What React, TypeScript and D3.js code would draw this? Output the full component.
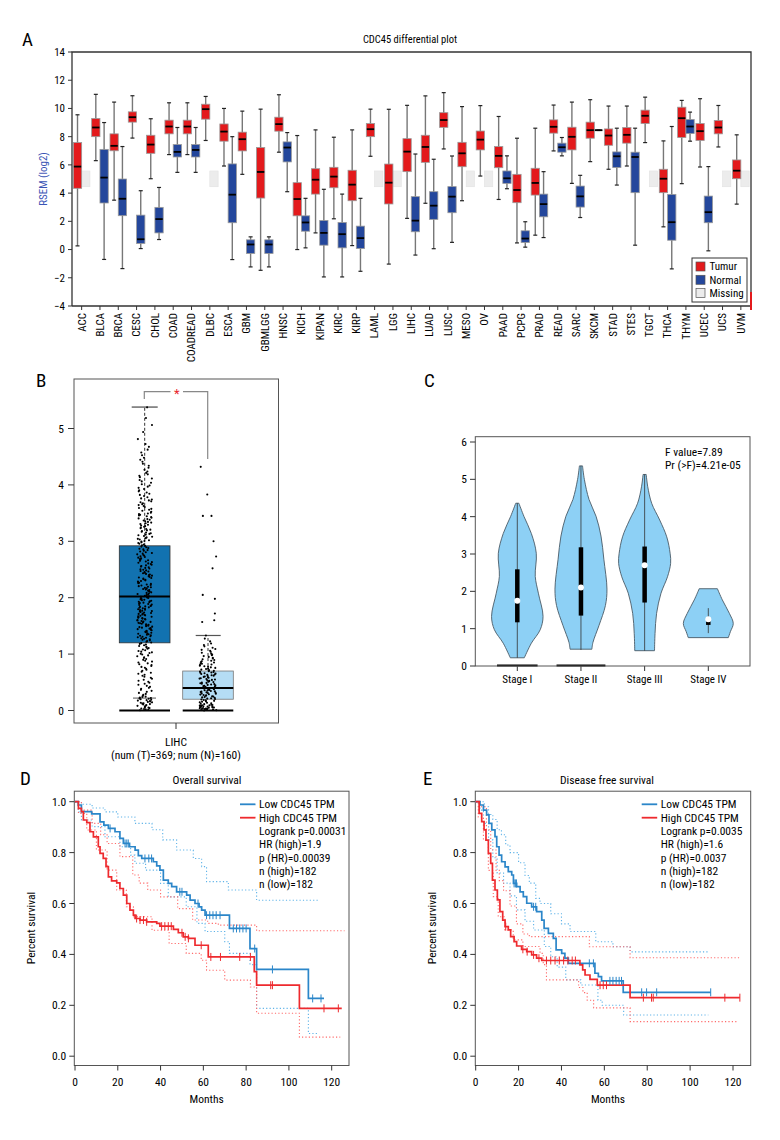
import React from "react";
import * as d3 from "d3";

const FONT = "'Liberation Sans Narrow','Arial Narrow','Roboto Condensed','DejaVu Sans Condensed',sans-serif";

// ---------------- Panel A data ----------------
const cancerTypes = ["ACC","BLCA","BRCA","CESC","CHOL","COAD","COADREAD","DLBC","ESCA","GBM","GBMLGG","HNSC","KICH","KIPAN","KIRC","KIRP","LAML","LGG","LIHC","LUAD","LUSC","MESO","OV","PAAD","PCPG","PRAD","READ","SARC","SKCM","STAD","STES","TGCT","THCA","THYM","UCEC","UCS","UVM"];
// [min, q1, median, q3, max]
const tumorStats: number[][] = [
  [0.26,4.34,5.88,7.58,9.55],[6.3,8.0,8.65,9.29,11.0],[3.5,7.0,7.35,8.2,10.45],[7.9,9.03,9.38,9.76,10.9],
  [5.02,6.82,7.44,8.1,9.27],[6.73,8.2,8.72,9.17,10.4],[6.73,8.2,8.72,9.17,10.4],[7.73,9.24,9.95,10.3,10.85],
  [5.92,7.68,8.36,8.9,10.0],[5.33,6.99,7.82,8.32,9.81],[-1.47,3.65,5.5,7.23,9.95],[6.9,8.39,8.89,9.38,10.97],
  [0,2.39,3.58,4.74,8.08],[1.18,3.93,4.95,5.73,8.48],[2.18,4.38,5.17,5.83,7.96],[0.28,3.46,4.6,5.62,8.48],
  [6.61,8.0,8.53,8.93,9.95],[-1.03,3.23,4.74,6.06,9.94],[2.21,5.52,6.94,7.86,10.22],[3.28,6.18,7.27,8.1,10.89],
  [7.13,8.66,9.18,9.7,11.12],[3.46,5.87,6.82,7.6,10.13],[5.21,7.06,7.79,8.4,10.2],[3.55,5.8,6.64,7.3,9.43],
  [0.47,3.32,4.22,5.33,7.89],[1.02,3.86,4.72,5.76,8.6],[6.99,8.25,8.7,9.19,10.24],[4.69,7.06,7.99,8.67,10.45],
  [6.23,7.89,8.46,9.03,10.62],[5.69,7.39,8.08,8.55,10.17],[5.92,7.54,8.13,8.65,10.17],[7.58,8.93,9.48,9.88,10.8],
  [1.61,4.03,5.02,5.69,7.7],[4.67,7.94,9.31,10.09,10.57],[5.85,7.73,8.39,8.93,10.69],[7.27,8.2,8.65,9.15,10.21],
  [3.22,5.02,5.59,6.35,8.13]
];
const normalStats: (number[] | null)[] = [
  null,[-0.7,3.3,5.1,7.1,9.0],[-1.35,2.4,3.6,5.0,7.3],[0.07,0.43,0.73,2.44,4.17],
  [0.71,1.18,2.16,2.99,4.4],[5.47,6.56,6.92,7.44,8.65],[5.47,6.56,7.06,7.44,8.65],null,
  [-0.71,1.9,3.89,6.07,8.0],[-1.23,-0.28,0.36,0.69,0.9],[-1.23,-0.28,0.36,0.69,0.9],[4.1,6.21,7.23,7.63,8.29],
  [0.12,1.3,1.92,2.39,3.63],[-1.94,0.31,1.18,2.06,4.27],[-1.94,0.12,1.09,1.92,3.93],[-1.54,0.07,0.81,1.66,3.63],
  null,null,[-0.39,1.26,2.05,3.75,6.77],[0.06,2.14,3.11,4.1,6.4],
  [0.51,2.61,3.75,4.46,6.63],null,null,[4.31,4.69,5.05,5.57,6.64],
  [0.17,0.5,0.78,1.33,1.97],[0.85,2.32,3.22,3.93,5.52],[6.64,6.9,7.25,7.54,7.94],[2.27,3.01,3.77,4.5,5.26],
  [8.44,8.44,8.46,8.48,8.48],[4.57,5.81,6.61,6.92,8.6],[0.31,4.03,6.56,6.9,8.6],null,
  [-1.37,0.66,1.94,3.91,8.72],[7.68,8.22,8.72,9.22,9.74],[-0.09,1.9,2.65,3.79,5.88],null,
  null
];
const missingRange = [4.45, 5.57];
const yTicksA = [-4,-2,0,2,4,6,8,10,12,14];
const legendA = [["Tumur","#e31a1c"],["Normal","#24479c"],["Missing","#ececec"]];

// ---------------- Panel B data ----------------
const tumorBinEdges = [0,0.25,0.5,0.75,1,1.25,1.5,1.75,2,2.25,2.5,2.75,3,3.25,3.5,3.75,4,4.25,4.5,4.75,5,5.25,5.5];
const tumorBinCounts = [32,14,14,16,20,28,30,30,25,24,22,20,20,20,15,12,10,7,5,2,2,1];
const normalBinEdges = [0,0.1,0.2,0.3,0.4,0.5,0.6,0.7,0.8,0.9,1.0,1.1,1.2,1.3];
const normalBinCounts = [26,12,14,16,14,13,14,10,9,7,6,4,2];
const normalOutliers = [1.33,1.57,1.6,1.72,1.98,2.05,2.52,2.73,3.0,3.45,3.45,3.83,4.32];
const tumorBox = { lo: 0.22, q1: 1.2, med: 2.02, q3: 2.92, hi: 5.38 };
const normalBox = { lo: 0.0, q1: 0.2, med: 0.4, q3: 0.7, hi: 1.33 };
const yTicksB = [0,1,2,3,4,5];

// ---------------- Panel C data ----------------
const stages = ["Stage I","Stage II","Stage III","Stage IV"];
// [value, relative density]
const violinShapes: number[][][] = [
  [[0.22,0.27],[0.61,0.54],[0.97,0.88],[1.33,0.99],[1.95,0.81],[2.4,0.69],[3.02,0.73],[3.55,0.54],[4.0,0.26],[4.36,0.06]],
  [[0.45,0.42],[0.63,0.46],[1.08,0.69],[1.62,0.94],[2.06,1.0],[2.86,0.88],[3.48,0.77],[4.01,0.58],[4.46,0.31],[5.0,0.13],[5.36,0.06]],
  [[0.41,0.38],[0.87,0.4],[1.41,0.46],[1.95,0.63],[2.39,0.88],[2.75,1.0],[3.02,0.98],[3.46,0.85],[3.91,0.58],[4.36,0.27],[4.8,0.12],[5.13,0.06]],
  [[0.76,0.77],[0.92,0.85],[1.14,0.96],[1.41,0.81],[1.77,0.54],[2.07,0.35]]
];
const stageBoxes = [
  { lo: 0.22, q1: 1.17, med: 1.75, q3: 2.59, hi: 4.36 },
  { lo: 0.43, q1: 1.35, med: 2.1, q3: 3.18, hi: 5.36 },
  { lo: 0.41, q1: 1.7, med: 2.7, q3: 3.2, hi: 5.13 },
  { lo: 0.88, q1: 1.1, med: 1.25, q3: 1.2, hi: 1.55 }
];
const zeroRugWidth = [0.78, 0.94, 0, 0];
const yTicksC = [0,1,2,3,4,5,6];
const anovaText = ["F value=7.89", "Pr (>F)=4.21e-05"];

// ---------------- Panel D data (overall survival) ----------------
const lowOS = [[0,1],[1.5,0.987],[3,0.961],[7.8,0.952],[11.7,0.921],[13.5,0.908],[15.6,0.895],[18.7,0.882],[21,0.856],[22.6,0.836],[25.5,0.823],[28.1,0.81],[29.6,0.788],[31.2,0.777],[36.6,0.764],[38.2,0.748],[39.7,0.731],[41.3,0.692],[43.6,0.679],[45.2,0.666],[47.5,0.646],[52.2,0.633],[53.8,0.613],[56.1,0.6],[58,0.587],[59.2,0.574],[60.8,0.554],[72.2,0.502],[81.8,0.423],[84.9,0.341],[109.1,0.227]];
const lowOSEnd = 116.4;
const lowOSCensor = [16.4,23.4,24.2,24.9,32.7,34.5,35.8,49,50,57.5,61.5,63,64.5,66,67.8,74,75.5,77,78.5,80,84,92.3,111.1,115];
const highOS = [[0,1],[1.6,0.974],[3,0.961],[3.9,0.928],[5.5,0.918],[7,0.882],[8.6,0.862],[10.9,0.823],[11.7,0.797],[13.2,0.777],[14.5,0.745],[15.6,0.705],[17.1,0.689],[19.5,0.681],[21,0.659],[22.6,0.633],[24.2,0.6],[25.7,0.574],[27.3,0.554],[28.1,0.541],[30.4,0.535],[33.5,0.528],[38.2,0.522],[39.7,0.511],[46,0.498],[48.3,0.485],[50.6,0.469],[53,0.463],[56.1,0.436],[62.3,0.39],[83.8,0.332],[84.9,0.279],[104.9,0.188]];
const highOSEnd = 124.7;
const highOSCensor = [28.8,30.4,32,33.5,40.5,42,43.6,45,50,51.5,53,59,63.5,68,77,82,91.5,92.3,116.4,123.1];
const lowOSUpper = [[0,1],[3,0.99],[8,0.975],[14,0.96],[20,0.94],[28,0.915],[36,0.89],[41,0.85],[47.5,0.81],[55.3,0.777],[59.2,0.745],[61.5,0.686],[71.7,0.653],[84.9,0.613]];
const lowOSUpperEnd = 114.5;
const lowOSLower = [[0,1],[1.5,0.96],[3,0.928],[8,0.902],[14,0.862],[21,0.823],[26,0.79],[28,0.758],[33,0.731],[40,0.679],[43.6,0.626],[52,0.587],[57,0.522],[60.8,0.49],[70,0.45],[72.2,0.404],[81.8,0.36],[84.9,0.188],[109.1,0.089]];
const lowOSLowerEnd = 113.8;
const highOSUpper = [[0,1],[3,0.967],[8,0.915],[12,0.87],[15,0.836],[21,0.784],[27,0.712],[30,0.68],[34,0.653],[40,0.626],[48,0.58],[55,0.535],[62,0.522],[67,0.515],[84.9,0.493]];
const highOSUpperEnd = 126;
const highOSLower = [[0,1],[1.6,0.954],[5.5,0.889],[10,0.81],[15,0.731],[19.5,0.653],[24,0.587],[27.3,0.548],[36,0.495],[44,0.443],[52,0.404],[59,0.377],[61.5,0.338],[70,0.299],[82,0.272],[84.9,0.169],[104.9,0.075]];
const highOSLowerEnd = 124;
const osLegend = ["Logrank p=0.00031","HR (high)=1.9","p (HR)=0.00039","n (high)=182","n (low)=182"];

// ---------------- Panel E data (disease free survival) ----------------
const lowDFS = [[0,1],[2,0.987],[3.6,0.967],[5.1,0.948],[6.2,0.915],[7.5,0.889],[9,0.863],[9.8,0.823],[10.9,0.79],[12.1,0.764],[13.7,0.744],[15.2,0.725],[16.8,0.712],[17.6,0.679],[19.1,0.666],[20.7,0.646],[22.2,0.627],[23.8,0.601],[26.1,0.587],[28.4,0.568],[30.8,0.535],[31.9,0.502],[33.9,0.483],[36.2,0.463],[37.5,0.418],[40.1,0.404],[41.6,0.385],[43.2,0.365],[55.6,0.326],[57.2,0.313],[58.7,0.296],[68.8,0.251]];
const lowDFSEnd = 109.6;
const lowDFSCensor = [17.9,18.5,19,27,28,53,54.9,62.6,64,65.5,66.9,68,77.4,79.7,84.4,109.6];
const highDFS = [[0,1],[1.6,0.954],[2.8,0.922],[3.9,0.889],[4.8,0.849],[5.9,0.797],[7,0.758],[7.8,0.692],[9,0.653],[10.1,0.614],[11.3,0.568],[12.6,0.535],[13.7,0.509],[15.2,0.496],[16.3,0.47],[17.9,0.45],[19.1,0.433],[21.4,0.42],[23.8,0.411],[26.1,0.398],[28.4,0.385],[30.8,0.376],[48.6,0.359],[49.9,0.339],[51,0.319],[53.3,0.302],[56.7,0.279],[72,0.23]];
const highDFSEnd = 123.2;
const highDFSCensor = [14,22,24,27,29.5,33,35,37,39,41,43,45,46.5,58,59.5,61,78.2,82,82.8,116.2,123.2];
const lowDFSUpper = [[0,1],[4,0.98],[6,0.95],[8,0.93],[10,0.89],[12,0.87],[14,0.83],[16,0.8],[20,0.76],[23,0.71],[25,0.68],[28,0.62],[30,0.6],[35,0.56],[40,0.52],[44,0.49],[56,0.45],[64,0.43],[72,0.41]];
const lowDFSUpperEnd = 108.5;
const lowDFSLower = [[0,1],[2,0.967],[3.6,0.915],[6,0.85],[8,0.78],[10,0.72],[13,0.68],[16,0.63],[19,0.575],[23,0.53],[27,0.496],[32,0.431],[35,0.391],[38,0.35],[42,0.3],[49,0.28],[57,0.22],[59,0.2],[69,0.162]];
const lowDFSLowerEnd = 108.5;
const highDFSUpper = [[0,1],[2,0.98],[5,0.89],[7,0.81],[9.5,0.73],[11,0.69],[13,0.65],[16,0.59],[19,0.52],[22,0.48],[25,0.47],[53,0.43],[72,0.387]];
const highDFSUpperEnd = 123.2;
const highDFSLower = [[0,1],[1.2,0.94],[3.6,0.85],[5.9,0.73],[8.2,0.627],[10.5,0.548],[13.6,0.496],[17.5,0.457],[22,0.431],[30,0.404],[31.5,0.36],[33,0.3],[48,0.27],[50,0.25],[52,0.22],[55,0.19],[72,0.136]];
const highDFSLowerEnd = 122.5;
const dfsLegend = ["Logrank p=0.0035","HR (high)=1.6","p (HR)=0.0037","n (high)=182","n (low)=182"];

const kmXTicks = [0,20,40,60,80,100,120];
const kmYTicks = [0,0.2,0.4,0.6,0.8,1.0];

const BLUE = "#2b86c9";
const RED = "#ee2a2e";
const BLUE_CI = "#5fb3e8";
const RED_CI = "#ff6b6b";

function binValues(edges: number[], counts: number[]) {
  const out: number[] = [];
  counts.forEach((n, k) => {
    const lo = edges[k], hi = edges[k + 1];
    for (let j = 0; j < n; j++) out.push(lo + ((j + 0.5) / n) * (hi - lo));
  });
  return out;
}

// deterministic horizontal jitter (layout only)
function jitter(i: number) {
  const s = Math.sin(i * 12.9898 + 78.233) * 43758.5453;
  const f = s - Math.floor(s);
  return f * 2 - 1;
}

function PanelA() {
  const x = d3.scaleBand<string>().domain(cancerTypes).range([72.5, 750]);
  const y = d3.scaleLinear().domain([-4, 14]).range([306, 52]);
  const bw = 8.3;
  const box = (s: number[], cx: number, fill: string, key: string) => (
    <g key={key}>
      <line x1={cx} x2={cx} y1={y(s[0])} y2={y(s[4])} stroke="#777" strokeWidth={1.4} />
      <line x1={cx - 2} x2={cx + 2} y1={y(s[0])} y2={y(s[0])} stroke="#222" strokeWidth={1.2} />
      <line x1={cx - 2} x2={cx + 2} y1={y(s[4])} y2={y(s[4])} stroke="#222" strokeWidth={1.2} />
      <rect x={cx - bw / 2} y={y(s[3])} width={bw} height={Math.max(0.8, y(s[1]) - y(s[3]))} fill={fill} stroke="#9a9a9a" strokeWidth={0.8} />
      <line x1={cx - bw / 2 + 0.5} x2={cx + bw / 2 - 0.5} y1={y(s[2])} y2={y(s[2])} stroke="#000" strokeWidth={1.8} />
    </g>
  );
  return (
    <g fontFamily={FONT}>
      <text x={22} y={46} fontSize={19} fontFamily={FONT}>A</text>
      <text x={410} y={43} fontSize={10.5} textAnchor="middle">CDC45 differential plot</text>
      <text transform={`translate(47,179) rotate(-90)`} fontSize={11} fill="#3b55b5" textAnchor="middle">RSEM (log2)</text>
      {cancerTypes.map((c, i) => {
        const cx = (x(c) as number) + x.bandwidth() / 2;
        const t = tumorStats[i];
        const n = normalStats[i];
        return (
          <g key={c}>
            {n === null ? (
              <rect x={cx} y={y(missingRange[1])} width={bw} height={y(missingRange[0]) - y(missingRange[1])} fill="#ececec" stroke="#e2e2e2" strokeWidth={0.6} />
            ) : null}
            {box(t, cx - bw / 2, "#e31a1c", "t")}
            {n !== null ? box(n, cx + bw / 2, "#24479c", "n") : null}
            <line x1={cx} x2={cx} y1={306} y2={310} stroke="#333" />
            <text transform={`translate(${cx},313) rotate(-90)`} textAnchor="end" dy="0.35em" fontSize={11}>{c}</text>
          </g>
        );
      })}
      <path d={`M72,306 V52 H751 V306 H72`} fill="none" stroke="#333" strokeWidth={1.3} />
      <line x1={751} x2={751} y1={292} y2={310} stroke="#e31a1c" strokeWidth={2} />
      {yTicksA.map(v => (
        <g key={v}>
          <line x1={68} x2={72} y1={y(v)} y2={y(v)} stroke="#333" />
          <text x={65} y={y(v)} dy="0.35em" textAnchor="end" fontSize={11}>{v < 0 ? `\u2212${-v}` : v}</text>
        </g>
      ))}
      <rect x={692} y={258} width={55} height={44} fill="#fff" stroke="#333" strokeWidth={1} />
      {legendA.map(([label, col], i) => (
        <g key={label}>
          <rect x={696} y={262 + i * 13.3} width={9} height={9} fill={col} stroke="#555" strokeWidth={0.7} />
          <text x={709.5} y={266.5 + i * 13.3} dy="0.35em" fontSize={11}>{label}</text>
        </g>
      ))}
    </g>
  );
}

function PanelB() {
  const y = d3.scaleLinear().domain([0, 5]).range([710.5, 428.5]);
  const tc = 144.7, nc = 208;
  const tumorVals = binValues(tumorBinEdges, tumorBinCounts);
  const normalVals = binValues(normalBinEdges, normalBinCounts).concat(normalOutliers);
  return (
    <g fontFamily={FONT}>
      <text x={36} y={387} fontSize={19}>B</text>
      <rect x={74} y={379} width={204.5} height={344} fill="none" stroke="#555" strokeWidth={1} />
      {yTicksB.map(v => (
        <g key={v}>
          <line x1={68} x2={74} y1={y(v)} y2={y(v)} stroke="#333" />
          <text x={64} y={y(v)} dy="0.35em" textAnchor="end" fontSize={11.5}>{v}</text>
        </g>
      ))}
      <line x1={176} x2={176} y1={723} y2={729} stroke="#333" />
      <text x={176} y={746} textAnchor="middle" fontSize={11.5}>LIHC</text>
      <text x={176} y={759} textAnchor="middle" fontSize={11.5}>(num (T)=369; num (N)=160)</text>
      {/* tumor */}
      <line x1={tc} x2={tc} y1={y(tumorBox.q3)} y2={y(tumorBox.hi)} stroke="#333" strokeDasharray="3,2" />
      <line x1={131.7} x2={157.7} y1={y(tumorBox.hi)} y2={y(tumorBox.hi)} stroke="#555" strokeWidth={1.3} />
      <line x1={133} x2={156} y1={y(tumorBox.lo)} y2={y(tumorBox.lo)} stroke="#555" strokeWidth={1} />
      <rect x={119.3} y={y(tumorBox.q3)} width={50.7} height={y(tumorBox.q1) - y(tumorBox.q3)} fill="#1272b0" stroke="#333" strokeWidth={0.8} />
      <line x1={119.3} x2={170} y1={y(tumorBox.med)} y2={y(tumorBox.med)} stroke="#000" strokeWidth={2} />
      <line x1={119.3} x2={170} y1={y(0)} y2={y(0)} stroke="#000" strokeWidth={2.2} />
      {/* normal */}
      <line x1={nc} x2={nc} y1={y(normalBox.q3)} y2={y(normalBox.hi)} stroke="#333" strokeDasharray="3,2" />
      <line x1={195.7} x2={220.7} y1={y(normalBox.hi)} y2={y(normalBox.hi)} stroke="#555" strokeWidth={1.2} />
      <rect x={182.7} y={y(normalBox.q3)} width={50.6} height={y(normalBox.q1) - y(normalBox.q3)} fill="#b5ddf5" stroke="#777" strokeWidth={0.8} />
      <line x1={182.7} x2={233.3} y1={y(normalBox.med)} y2={y(normalBox.med)} stroke="#000" strokeWidth={2} />
      <line x1={182.7} x2={233.3} y1={y(0)} y2={y(0)} stroke="#000" strokeWidth={2.2} />
      {tumorVals.map((v, i) => (
        <circle key={"t" + i} cx={tc + jitter(i) * 7.5} cy={y(v)} r={1.05} fill="#000" />
      ))}
      {normalVals.map((v, i) => (
        <circle key={"n" + i} cx={nc + jitter(i + 1000) * 8.5} cy={y(v)} r={1.05} fill="#000" />
      ))}
      <path d={`M144.3,399 V391.7 H170.5 M183,391.7 H207.7 V459`} fill="none" stroke="#888" strokeWidth={1.2} />
      <text x={176.7} y={398} textAnchor="middle" fontSize={13} fill="#e8262c">*</text>
    </g>
  );
}

function PanelC() {
  const y = d3.scaleLinear().domain([0, 6]).range([666, 442]);
  const x = d3.scalePoint<string>().domain(stages).range([517.3, 708.3]);
  const w = d3.scaleLinear().domain([0, 1]).range([0, 26]);
  return (
    <g fontFamily={FONT}>
      <text x={424} y={387} fontSize={19}>C</text>
      {stages.map((s, i) => {
        const cx = x(s) as number;
        const area = d3.area<number[]>()
          .y(d => y(d[0]))
          .x0(d => cx - w(d[1]))
          .x1(d => cx + w(d[1]))
          .curve(d3.curveCatmullRom.alpha(0.5));
        const b = stageBoxes[i];
        return (
          <g key={s}>
            <path d={area(violinShapes[i]) as string} fill="#8dd0f5" stroke="#4a5a66" strokeWidth={0.9} />
            <line x1={cx} x2={cx} y1={y(b.lo)} y2={y(b.hi)} stroke="#333" strokeWidth={0.8} />
            <line x1={cx} x2={cx} y1={y(Math.min(b.q1, b.q3))} y2={y(Math.max(b.q1, b.q3))} stroke="#000" strokeWidth={4.5} />
            <circle cx={cx} cy={y(b.med)} r={3} fill="#fff" />
            {zeroRugWidth[i] > 0 ? (
              <line x1={cx - w(zeroRugWidth[i])} x2={cx + w(zeroRugWidth[i])} y1={y(0) - 0.5} y2={y(0) - 0.5} stroke="#000" strokeWidth={2} />
            ) : null}
            <line x1={cx} x2={cx} y1={666} y2={671} stroke="#333" />
            <text x={cx} y={683} textAnchor="middle" fontSize={11}>{s}</text>
          </g>
        );
      })}
      <rect x={475.3} y={436.7} width={274.7} height={229.3} fill="none" stroke="#555" strokeWidth={1} />
      {yTicksC.map(v => (
        <g key={v}>
          <line x1={470} x2={475.3} y1={y(v)} y2={y(v)} stroke="#333" />
          <text x={467} y={y(v)} dy="0.35em" textAnchor="end" fontSize={11.5}>{v}</text>
        </g>
      ))}
      {anovaText.map((t, i) => (
        <text key={t} x={665} y={455.5 + i * 13.5} fontSize={11.5}>{t}</text>
      ))}
    </g>
  );
}

type KMProps = {
  label: string; lx: number; title: string; x0: number; x120: number; frameL: number; frameR: number;
  low: number[][]; lowEnd: number; lowC: number[];
  high: number[][]; highEnd: number; highC: number[];
  lowU: number[][]; lowUE: number; lowL: number[][]; lowLE: number;
  highU: number[][]; highUE: number; highL: number[][]; highLE: number;
  legend: string[]; titleX: number;
};

function KMPanel(p: KMProps) {
  const x = d3.scaleLinear().domain([0, 120]).range([p.x0, p.x120]);
  const y = d3.scaleLinear().domain([0, 1]).range([1056.2, 801.7]);
  const step = (pts: number[][], end: number) => {
    const all = pts.concat([[end, pts[pts.length - 1][1]]]);
    return d3.line<number[]>().x(d => x(d[0])).y(d => y(d[1])).curve(d3.curveStepAfter)(all) as string;
  };
  const survAt = (pts: number[][], t: number) => {
    let s = pts[0][1];
    for (const q of pts) if (q[0] <= t) s = q[1];
    return s;
  };
  const top = 791.2, bottom = 1065.5;
  const lgX = p.frameR - 109;
  return (
    <g fontFamily={FONT}>
      <text x={p.lx} y={785} fontSize={19}>{p.label}</text>
      <text x={p.titleX} y={784} textAnchor="middle" fontSize={11.5}>{p.title}</text>
      <rect x={p.frameL} y={top} width={p.frameR - p.frameL} height={bottom - top} fill="none" stroke="#555" strokeWidth={1} />
      {kmYTicks.map(v => (
        <g key={v}>
          <line x1={p.frameL - 5} x2={p.frameL} y1={y(v)} y2={y(v)} stroke="#333" />
          <text x={p.frameL - 8} y={y(v)} dy="0.35em" textAnchor="end" fontSize={11.5}>{v.toFixed(1)}</text>
        </g>
      ))}
      {kmXTicks.map(v => (
        <g key={v}>
          <line x1={x(v)} x2={x(v)} y1={bottom} y2={bottom + 5} stroke="#333" />
          <text x={x(v)} y={1086} textAnchor="middle" fontSize={11.5}>{v}</text>
        </g>
      ))}
      <text x={(p.frameL + p.frameR) / 2 - 5} y={1103} textAnchor="middle" fontSize={11.5}>Months</text>
      <text transform={`translate(${p.frameL - 39},928) rotate(-90)`} textAnchor="middle" fontSize={11.5}>Percent survival</text>
      <path d={step(p.lowU, p.lowUE)} fill="none" stroke={BLUE_CI} strokeWidth={1.1} strokeDasharray="1.2,2.2" />
      <path d={step(p.lowL, p.lowLE)} fill="none" stroke={BLUE_CI} strokeWidth={1.1} strokeDasharray="1.2,2.2" />
      <path d={step(p.highU, p.highUE)} fill="none" stroke={RED_CI} strokeWidth={1.1} strokeDasharray="1.2,2.2" />
      <path d={step(p.highL, p.highLE)} fill="none" stroke={RED_CI} strokeWidth={1.1} strokeDasharray="1.2,2.2" />
      <path d={step(p.low, p.lowEnd)} fill="none" stroke={BLUE} strokeWidth={1.7} />
      <path d={step(p.high, p.highEnd)} fill="none" stroke={RED} strokeWidth={1.7} />
      {p.lowC.map((t, i) => (
        <line key={"lc" + i} x1={x(t)} x2={x(t)} y1={y(survAt(p.low, t)) - 4} y2={y(survAt(p.low, t)) + 4} stroke={BLUE} strokeWidth={1} />
      ))}
      {p.highC.map((t, i) => (
        <line key={"hc" + i} x1={x(t)} x2={x(t)} y1={y(survAt(p.high, t)) - 4} y2={y(survAt(p.high, t)) + 4} stroke={RED} strokeWidth={1} />
      ))}
      <line x1={lgX} x2={lgX + 15.5} y1={804.3} y2={804.3} stroke={BLUE} strokeWidth={1.8} />
      <line x1={lgX} x2={lgX + 15.5} y1={817.7} y2={817.7} stroke={RED} strokeWidth={1.8} />
      <text x={lgX + 19} y={804.3} dy="0.35em" fontSize={11.5}>Low CDC45 TPM</text>
      <text x={lgX + 19} y={817.7} dy="0.35em" fontSize={11.5}>High CDC45 TPM</text>
      {p.legend.map((t, i) => (
        <text key={t + i} x={lgX + 19} y={831 + i * 13.3} dy="0.35em" fontSize={11.5}>{t}</text>
      ))}
    </g>
  );
}

export default function App() {
  return (
    <svg width={780} height={1140} style={{ position: "absolute", left: 0, top: 0, background: "#fff" }} fontFamily={FONT}>
      <rect width={780} height={1140} fill="#fff" />
      <PanelA />
      <PanelB />
      <PanelC />
      <KMPanel label="D" lx={20} title="Overall survival" titleX={207} x0={75} x120={331.7} frameL={74.3} frameR={349}
        low={lowOS} lowEnd={lowOSEnd} lowC={lowOSCensor} high={highOS} highEnd={highOSEnd} highC={highOSCensor}
        lowU={lowOSUpper} lowUE={lowOSUpperEnd} lowL={lowOSLower} lowLE={lowOSLowerEnd}
        highU={highOSUpper} highUE={highOSUpperEnd} highL={highOSLower} highLE={highOSLowerEnd} legend={osLegend} />
      <KMPanel label="E" lx={423} title="Disease free survival" titleX={607} x0={475.7} x120={733} frameL={475.3} frameR={750.7}
        low={lowDFS} lowEnd={lowDFSEnd} lowC={lowDFSCensor} high={highDFS} highEnd={highDFSEnd} highC={highDFSCensor}
        lowU={lowDFSUpper} lowUE={lowDFSUpperEnd} lowL={lowDFSLower} lowLE={lowDFSLowerEnd}
        highU={highDFSUpper} highUE={highDFSUpperEnd} highL={highDFSLower} highLE={highDFSLowerEnd} legend={dfsLegend} />
    </svg>
  );
}
